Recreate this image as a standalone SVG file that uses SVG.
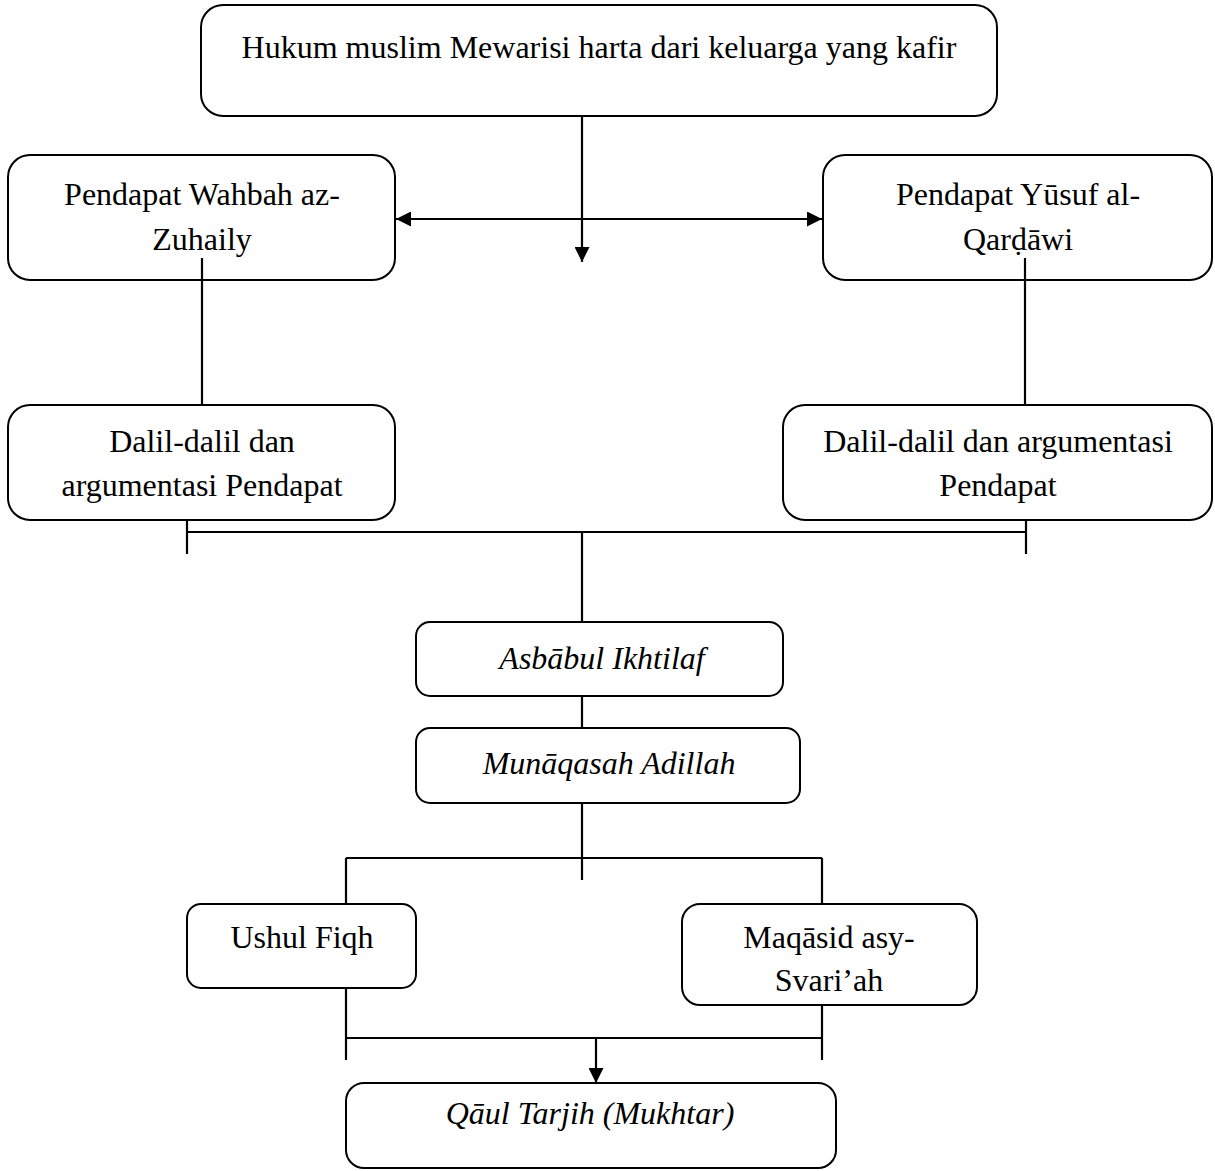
<svg xmlns="http://www.w3.org/2000/svg" width="1215" height="1171" viewBox="0 0 1215 1171">
<style>
.box{fill:#fff;stroke:#000;stroke-width:2}
.t{font-family:"Liberation Serif","Times New Roman",serif;font-size:32px;fill:#000;text-anchor:middle}
.i{font-style:italic}
.ln{stroke:#000;stroke-width:2.2;fill:none}
</style>
<defs>
<marker id="a" viewBox="0 0 10 10" refX="10" refY="5" markerWidth="15" markerHeight="15" markerUnits="userSpaceOnUse" orient="auto-start-reverse">
<path d="M0,0 L10,5 L0,10 z" fill="#000"/>
</marker>
</defs>
<rect width="1215" height="1171" fill="#fff"/>
<g id="n-hukum">
<rect class="box" x="201" y="5" width="796" height="111" rx="22"/>
<text class="t" x="599" y="58">Hukum muslim Mewarisi harta dari keluarga yang kafir</text>
</g>
<g id="n-wahbah">
<rect class="box" x="8" y="155" width="387" height="125" rx="22"/>
<text class="t" x="202" y="205">Pendapat Wahbah az-<tspan x="202" dy="45">Zuhaily</tspan></text>
</g>
<g id="n-yusuf">
<rect class="box" x="823" y="155" width="389" height="125" rx="22"/>
<text class="t" x="1018" y="205">Pendapat Yūsuf al-<tspan x="1018" dy="45">Qarḍāwi</tspan></text>
</g>
<g id="n-dalil-left">
<rect class="box" x="8" y="405" width="387" height="115" rx="22"/>
<text class="t" x="202" y="452">Dalil-dalil dan<tspan x="202" dy="44">argumentasi Pendapat</tspan></text>
</g>
<g id="n-dalil-right">
<rect class="box" x="783" y="405" width="429" height="115" rx="22"/>
<text class="t" x="998" y="452">Dalil-dalil dan argumentasi<tspan x="998" dy="44">Pendapat</tspan></text>
</g>
<g id="n-asbab">
<rect class="box" x="416" y="622" width="367" height="74" rx="14"/>
<text class="t i" x="602" y="669">Asbābul Ikhtilaf</text>
</g>
<g id="n-munaqasah">
<rect class="box" x="416" y="728" width="384" height="75" rx="14"/>
<text class="t i" x="609" y="774">Munāqasah Adillah</text>
</g>
<g id="n-ushul">
<rect class="box" x="187" y="904" width="229" height="84" rx="14"/>
<text class="t" x="302" y="948">Ushul Fiqh</text>
</g>
<g id="n-maqasid">
<rect class="box" x="682" y="904" width="295" height="101" rx="18"/>
<text class="t" x="829" y="948">Maqāsid asy-<tspan x="829" dy="43">Svari’ah</tspan></text>
</g>
<g id="n-qaul">
<rect class="box" x="346" y="1083" width="490" height="85" rx="18"/>
<text class="t i" x="590" y="1124">Qāul Tarjih (Mukhtar)</text>
</g>
<g id="connectors">
<line class="ln" x1="582" y1="116" x2="582" y2="262" marker-end="url(#a)"/>
<line class="ln" x1="396" y1="219" x2="822" y2="219" marker-start="url(#a)" marker-end="url(#a)"/>
<line class="ln" x1="202" y1="258" x2="202" y2="405"/>
<line class="ln" x1="1025" y1="258" x2="1025" y2="405"/>
<line class="ln" x1="187" y1="532" x2="1026" y2="532"/>
<line class="ln" x1="187" y1="520" x2="187" y2="554"/>
<line class="ln" x1="1026" y1="520" x2="1026" y2="554"/>
<line class="ln" x1="582" y1="532" x2="582" y2="622"/>
<line class="ln" x1="582" y1="696" x2="582" y2="728"/>
<line class="ln" x1="582" y1="803" x2="582" y2="880"/>
<line class="ln" x1="346" y1="858" x2="822" y2="858"/>
<line class="ln" x1="346" y1="858" x2="346" y2="904"/>
<line class="ln" x1="822" y1="858" x2="822" y2="904"/>
<line class="ln" x1="346" y1="988" x2="346" y2="1060"/>
<line class="ln" x1="822" y1="1005" x2="822" y2="1060"/>
<line class="ln" x1="346" y1="1038" x2="822" y2="1038"/>
<line class="ln" x1="596" y1="1038" x2="596" y2="1083" marker-end="url(#a)"/>
</g>
</svg>
